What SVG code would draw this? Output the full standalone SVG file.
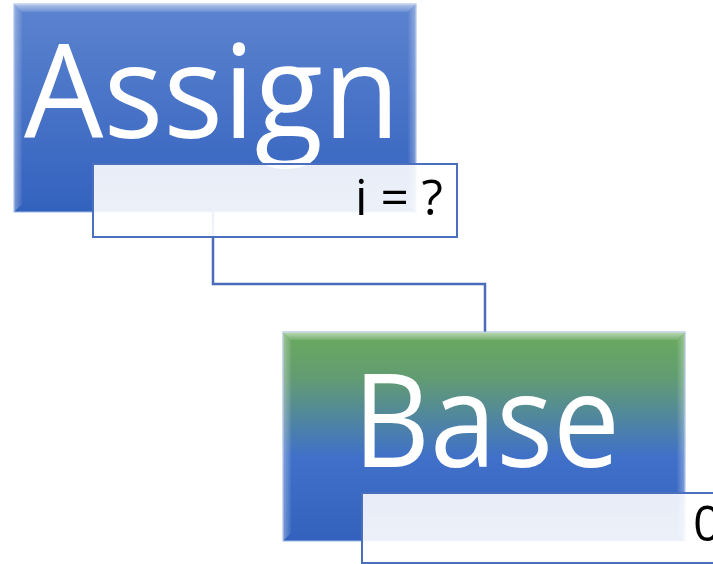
<svg xmlns="http://www.w3.org/2000/svg" width="713" height="564" viewBox="0 0 713 564">
<defs>
<linearGradient id="gBlue" x1="0" y1="0" x2="0" y2="1">
<stop offset="0" stop-color="#5c83cf"/>
<stop offset="1" stop-color="#3362be"/>
</linearGradient>
<linearGradient id="gGreen" x1="0" y1="0" x2="0" y2="1">
<stop offset="0" stop-color="#6aaa5e"/>
<stop offset="0.22" stop-color="#629c72"/>
<stop offset="0.45" stop-color="#4d82a8"/>
<stop offset="0.6" stop-color="#4070c8"/>
<stop offset="1" stop-color="#3262bd"/>
</linearGradient>
<linearGradient id="gTop" x1="0" y1="0" x2="0" y2="1">
<stop offset="0" stop-color="#ffffff" stop-opacity="0.55"/>
<stop offset="1" stop-color="#ffffff" stop-opacity="0.1"/>
</linearGradient>
<linearGradient id="gLeft" x1="0" y1="0" x2="1" y2="0">
<stop offset="0" stop-color="#ffffff" stop-opacity="0.35"/>
<stop offset="1" stop-color="#ffffff" stop-opacity="0.05"/>
</linearGradient>
<linearGradient id="gRight" x1="1" y1="0" x2="0" y2="0">
<stop offset="0" stop-color="#ffffff" stop-opacity="0.35"/>
<stop offset="1" stop-color="#ffffff" stop-opacity="0.02"/>
</linearGradient>
<linearGradient id="gSub" x1="0" y1="0" x2="0" y2="1">
<stop offset="0" stop-color="#ffffff" stop-opacity="0.88"/>
<stop offset="1" stop-color="#ffffff" stop-opacity="0.92"/>
</linearGradient>
</defs>
<style>
.main{stroke:#9bb6e6;stroke-width:1}
.sub{fill:url(#gSub);stroke:#4a6fbf;stroke-width:2}
.big{font-family:"Open Sans","Noto Sans",sans-serif;fill:#ffffff;font-size:130px}
.small{font-family:"Open Sans","Noto Sans",sans-serif;fill:#000000;font-size:50px}
.conn{fill:none;stroke:#4a6cb8;stroke-width:2.5}
</style>
<g id="connectors">
<path class="conn" d="M213,212 V284 H485 V332"/>
</g>
<g id="assign">
<rect class="main" x="14" y="4" width="402" height="208" fill="url(#gBlue)"/>
<polygon points="14,4 416,4 408,12 22,12" fill="url(#gTop)"/>
<polygon points="14,4 22,12 22,204 14,212" fill="url(#gLeft)"/>
<polygon points="416,4 408,12 408,204 416,212" fill="url(#gRight)"/>
<text class="big" x="24" y="138" textLength="376" lengthAdjust="spacingAndGlyphs">Assign</text>
<rect class="sub" x="93" y="164" width="364" height="73"/>
<text class="small" x="355" y="215" textLength="88" lengthAdjust="spacingAndGlyphs">i = ?</text>
</g>
<g id="base">
<rect class="main" x="283" y="332" width="402" height="209" fill="url(#gGreen)"/>
<polygon points="283,332 685,332 677,340 291,340" fill="url(#gTop)"/>
<polygon points="283,332 291,340 291,533 283,541" fill="url(#gLeft)"/>
<polygon points="685,332 677,340 677,533 685,541" fill="url(#gRight)"/>
<text class="big" x="353" y="467" textLength="267" lengthAdjust="spacingAndGlyphs">Base</text>
<rect class="sub" x="362" y="493" width="360" height="70"/>
<text class="small" x="693" y="541">0</text>
</g>
</svg>
